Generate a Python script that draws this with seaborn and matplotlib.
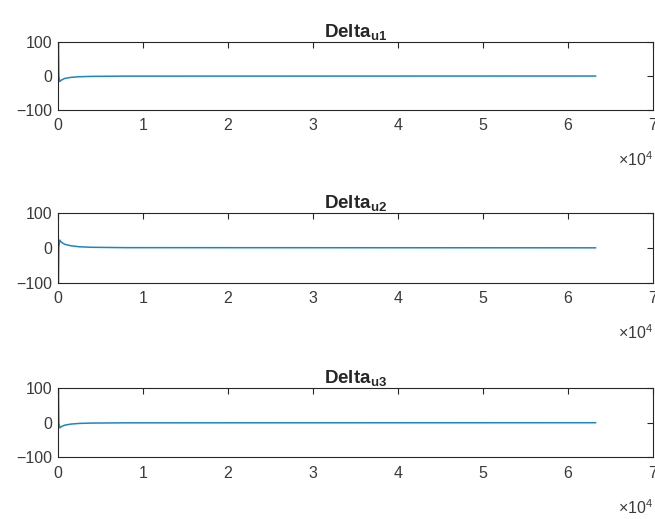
import matplotlib
matplotlib.use("Agg")
import matplotlib.pyplot as plt
from matplotlib.ticker import FuncFormatter
import pandas as pd
import seaborn as sns

# key points (x in samples, y = delta)
x_u1 = [60, 100, 200, 400, 800, 1500, 2500, 4000, 8000, 63300]
y_u1 = [100, 0, -16, -12, -7, -4, -2, -1, -0.3, 0]

x_u2 = [60, 100, 200, 400, 800, 1500, 2500, 4000, 8000, 63300]
y_u2 = [-100, 0, 22, 16, 10, 6, 3, 1.5, 0.5, 0]

x_u3 = [60, 100, 200, 400, 800, 1500, 2500, 4000, 8000, 63300]
y_u3 = [100, 0, -15, -11, -7, -4, -2, -1, -0.3, 0]

titles = [r"Delta$_{\mathbf{u1}}$", r"Delta$_{\mathbf{u2}}$", r"Delta$_{\mathbf{u3}}$"]
x_ticks = [0, 10000, 20000, 30000, 40000, 50000, 60000, 70000]
y_ticks = [-100, 0, 100]

sns.set_style("white")
plt.rcParams["font.family"] = ["Liberation Sans", "DejaVu Sans"]
plt.rcParams["mathtext.fontset"] = "custom"
plt.rcParams["mathtext.bf"] = "Liberation Sans:bold"
plt.rcParams["mathtext.rm"] = "Liberation Sans"

fig = plt.figure(figsize=(6.55, 5.19), dpi=100)

# axes boxes (left, bottom, width, height) in figure fractions
boxes = [
    [0.0885, 0.788, 0.908, 0.131],
    [0.0885, 0.455, 0.908, 0.135],
    [0.0885, 0.119, 0.908, 0.133],
]

series = [(x_u1, y_u1), (x_u2, y_u2), (x_u3, y_u3)]

for i in range(3):
    ax = fig.add_axes(boxes[i])
    df = pd.DataFrame({"x": series[i][0], "y": series[i][1]})
    sns.lineplot(data=df, x="x", y="y", ax=ax, color="#1f84c2", linewidth=1.1)
    ax.set_xlim(0, 70000)
    ax.set_ylim(-100, 100)
    ax.set_xticks(x_ticks)
    ax.set_yticks(y_ticks)
    ax.xaxis.set_major_formatter(FuncFormatter(lambda v, p: "%g" % (v / 10000)))
    ax.set_xlabel("")
    ax.set_ylabel("")
    ax.tick_params(direction="in", length=4, width=0.8, top=True, right=True,
                   labelsize=11.5, labelcolor="#3a3a3a", colors="#262626", pad=6)
    ax.tick_params(axis="y", pad=4)
    for s in ax.spines.values():
        s.set_color("#262626")
        s.set_linewidth(0.8)
    ax.set_title(titles[i], fontsize=13.5, fontweight="bold", pad=3)
    # multiplier label under the right end, like matlab
    ax.annotate(r"$\times 10^4$", xy=(1.0, 0), xycoords="axes fraction",
                xytext=(0, -50), textcoords="offset pixels",
                ha="right", va="center", fontsize=11.5, color="#3a3a3a")

plt.savefig("out.png", dpi=100)
